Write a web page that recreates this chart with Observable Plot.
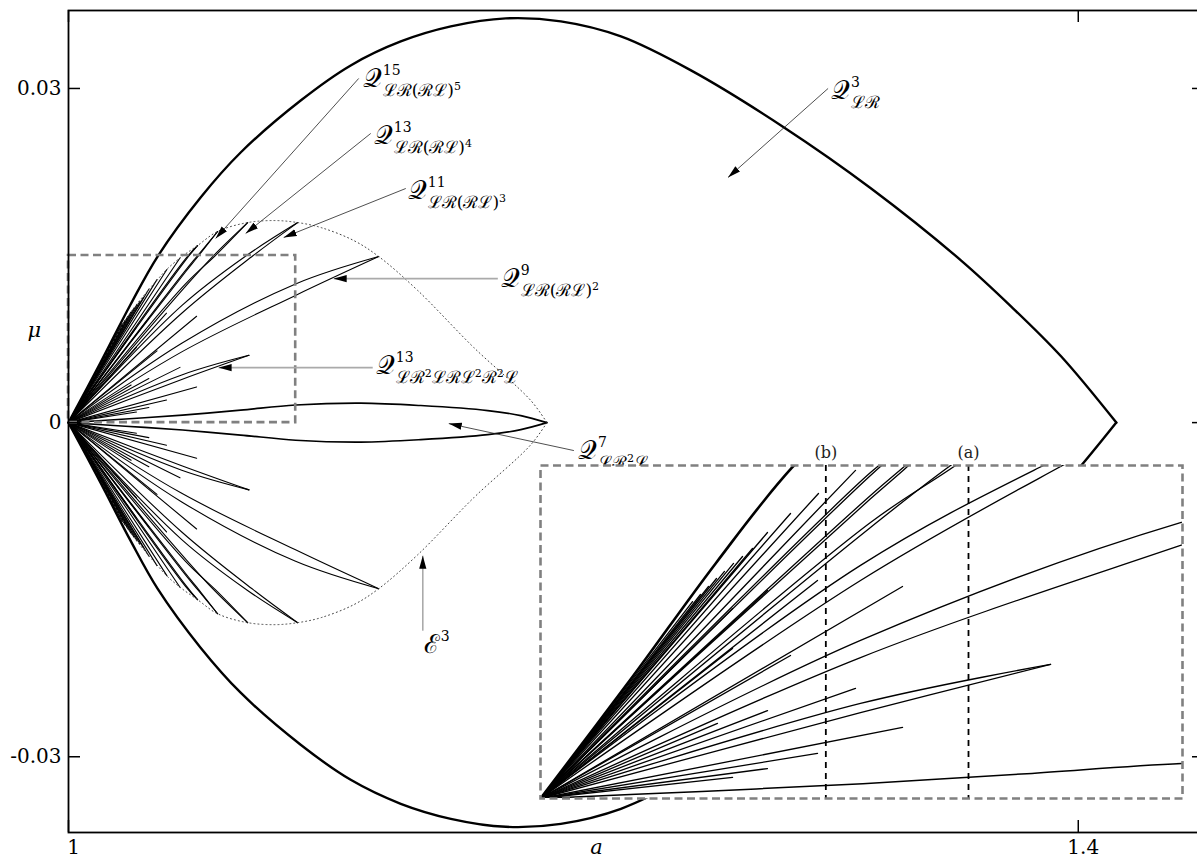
<!DOCTYPE html>
<html><head><meta charset="utf-8">
<script src="https://cdn.jsdelivr.net/npm/d3@7"></script>
<script src="https://cdn.jsdelivr.net/npm/@observablehq/plot@0.6"></script>
<style>
body{margin:0;background:#fff;}
#wrap{position:relative;width:1197px;height:865px;overflow:hidden;background:#fff;}
</style></head><body><div id="wrap"></div>
<script>
// ---------- data (upper half; the figure is symmetric in mu) ----------
const xTicks = [1, 1.4];
const xTickText = ["1", "1.4"];
const yTicks = [-0.03, 0, 0.03];
const yTickText = ["-0.03", "0", "0.03"];

// Q^3_LR boundary, upper branch
const q3A  = [1, 1.01269, 1.02458, 1.03528, 1.05233, 1.06819, 1.09197, 1.11179, 1.13161, 1.15144, 1.17324, 1.19504, 1.21883, 1.24658, 1.28345, 1.31794, 1.35362, 1.37344, 1.39326, 1.41506];
const q3Mu = [0, 0.00539, 0.01060, 0.01491, 0.02021, 0.02425, 0.02892, 0.03207, 0.03422, 0.03557, 0.03629, 0.03602, 0.03467, 0.03162, 0.02650, 0.02102, 0.01455, 0.01042, 0.00593, 0];

// E^3 curve (dotted), upper branch
const e3A  = [1, 1.00872, 1.01665, 1.02458, 1.03195, 1.03528, 1.03885, 1.04440, 1.05114, 1.05907, 1.07096, 1.08206, 1.09078, 1.09990, 1.11298, 1.12289, 1.13835, 1.16055, 1.18315, 1.1895];
const e3Mu = [0, 0.00359, 0.00683, 0.00988, 0.01198, 0.01284, 0.01374, 0.01482, 0.01590, 0.01716, 0.01796, 0.01814, 0.01796, 0.01752, 0.01635, 0.01491, 0.01186, 0.00674, 0.00198, 0];

// Q^7_{LR^2L} lens, upper curve
const q7A  = [1, 1.02260, 1.04519, 1.06819, 1.08999, 1.11576, 1.13954, 1.16610, 1.17918, 1.1895];
const q7Mu = [0, 0.00032, 0.00067, 0.00112, 0.00158, 0.00175, 0.00153, 0.00108, 0.00063, 0];

// common origin of every fan line
const fanOrigin = [1, 0];
// straight fan lines: end points
const fanEndA  = [1.04416, 1.03897, 1.03505, 1.03182, 1.02972, 1.02832, 1.02706, 1.02579, 1.02467, 1.02355, 1.02243, 1.02131,
                  1.03883, 1.03182, 1.02692, 1.05075, 1.03505, 1.02692, 1.04416, 1.03182, 1.02481, 1.05075, 1.03883, 1.03182, 1.02692];
const fanEndMu = [0.01478, 0.01374, 0.01284, 0.01198, 0.01126, 0.01090, 0.01059, 0.01023, 0.00991, 0.00955, 0.00919, 0.00887,
                  0.00982, 0.00937, 0.00856, 0.00955, 0.00644, 0.00676, 0.00496, 0.00396, 0.00338, 0.00320, 0.00203, 0.00135, 0.00095];
// curved fan lines (pairs bounding the Q regions): points after the origin
const fanCurves = [
  [[1.04486, 0.00712], [1.08972, 0.01243], [1.12289, 0.01491]],   // Q9
  [[1.04486, 0.00635], [1.08972, 0.01140], [1.12289, 0.01491]],
  [[1.04486, 0.01050], [1.07051, 0.01500], [1.09078, 0.01796]],   // Q11
  [[1.04486, 0.00982], [1.07318, 0.01500], [1.09078, 0.01796]],
  [[1.04626, 0.01243], [1.05818, 0.01500], [1.07096, 0.01796]],   // Q13
  [[1.04626, 0.01221], [1.05748, 0.01500], [1.07096, 0.01796]],
  [[1.04626, 0.01365], [1.05117, 0.01500], [1.05907, 0.01716]],   // Q15
  [[1.04626, 0.01350], [1.05090, 0.01480], [1.05907, 0.01716]],
  [[1.04626, 0.01468], [1.05114, 0.01590]],
  [[1.04626, 0.01455], [1.05114, 0.01590]],
  [[1.04486, 0.00428], [1.07150, 0.00604]],                       // Q13 LR2LRL2R2L
  [[1.04486, 0.00387], [1.07150, 0.00604]]
];

// zoom window and its guides
const zoomBox = [{a1: 1, a2: 1.09, mu1: 0, mu2: 0.015}];
const insetGuides = [{a: 1.04, t: "(b)"}, {a: 1.06, t: "(a)"}];

// annotations
const labels = [
  {a: 1.11655, mu: 0.03090, main: "𝒬", sup: "15", sub: "ℒℛ(ℛℒ)^5"},
  {a: 1.12091, mu: 0.02578, main: "𝒬", sup: "13", sub: "ℒℛ(ℛℒ)^4"},
  {a: 1.13439, mu: 0.02084, main: "𝒬", sup: "11", sub: "ℒℛ(ℛℒ)^3"},
  {a: 1.17126, mu: 0.01293, main: "𝒬", sup: "9",  sub: "ℒℛ(ℛℒ)^2"},
  {a: 1.12170, mu: 0.00512, main: "𝒬", sup: "13", sub: "ℒℛ^2ℒℛℒ^2ℛ^2ℒ"},
  {a: 1.20178, mu: -0.00251, main: "𝒬", sup: "7", sub: "ℒℛ^2ℒ"},
  {a: 1.30208, mu: 0.02982, main: "𝒬", sup: "3",  sub: "ℒℛ"},
  {a: 1.14074, mu: -0.01994, main: "ℰ", sup: "3",  sub: ""}
];
const blackArrows = [
  {a1: 1.11496, mu1: 0.03090, a2: 1.05828, mu2: 0.01653},
  {a1: 1.11972, mu1: 0.02596, a2: 1.07017, mu2: 0.01698},
  {a1: 1.13360, mu1: 0.02102, a2: 1.08523, mu2: 0.01662},
  {a1: 1.30089, mu1: 0.03000, a2: 1.26125, mu2: 0.02201},
  {a1: 1.20020, mu1: -0.00251, a2: 1.15064, mu2: -0.00009}
];
const grayArrows = [
  {a1: 1.17007, mu1: 0.01293, a2: 1.10505, mu2: 0.01293},
  {a1: 1.12051, mu1: 0.00494, a2: 1.05946, mu2: 0.00494},
  {a1: 1.14034, mu1: -0.01868, a2: 1.14034, mu2: -0.01195}
];
const axisTitles = {x: {a: 1.2092, t: "a"}, y: {mu: 0.00826, t: "μ"}};

// ---------- build rows ----------
const rowsFrom = (id, A, M) => A.map((a, i) => ({id, a, mu: M[i]}));
const q3Rows = rowsFrom("q3", q3A, q3Mu);
const e3Rows = rowsFrom("e3", e3A, e3Mu);
const q7Rows = rowsFrom("q7", q7A, q7Mu);
const fanRows = [];
fanEndA.forEach((a, i) => {
  fanRows.push({id: "s" + i, a: fanOrigin[0], mu: fanOrigin[1]}, {id: "s" + i, a, mu: fanEndMu[i]});
});
fanCurves.forEach((pts, i) => {
  fanRows.push({id: "c" + i, a: fanOrigin[0], mu: fanOrigin[1]});
  pts.forEach(([a, mu]) => fanRows.push({id: "c" + i, a, mu}));
});
const neg = d => -d.mu;

// ---------- layout ----------
const W = 1197, H = 865, mL = 68, mR = -7, mT = 10, mB = 33;
const FW = W - mL - mR, FH = H - mT - mB;
const SERIF = "DejaVu Serif, Liberation Serif, serif";
const TICK = 12;

const main = Plot.plot({
  width: W, height: H, marginLeft: mL, marginRight: mR, marginTop: mT, marginBottom: mB,
  x: {domain: [1, 1.45], axis: null},
  y: {domain: [-0.0368, 0.037], axis: null},
  style: {fontFamily: SERIF, fontSize: "20px", background: "white", overflow: "visible"},
  marks: [
    Plot.line(fanRows, {x: "a", y: "mu", z: "id", curve: "catmull-rom", stroke: "black", strokeWidth: 1.1}),
    Plot.line(fanRows, {x: "a", y: neg, z: "id", curve: "catmull-rom", stroke: "black", strokeWidth: 1.1}),
    Plot.line(q7Rows, {x: "a", y: "mu", curve: "catmull-rom", stroke: "black", strokeWidth: 1.6}),
    Plot.line(q7Rows, {x: "a", y: neg, curve: "catmull-rom", stroke: "black", strokeWidth: 1.6}),
    Plot.line(e3Rows, {x: "a", y: "mu", curve: "catmull-rom", stroke: "#444", strokeWidth: 1, strokeDasharray: "1,3"}),
    Plot.line(e3Rows, {x: "a", y: neg, curve: "catmull-rom", stroke: "#444", strokeWidth: 1, strokeDasharray: "1,3"}),
    Plot.line(q3Rows, {x: "a", y: "mu", curve: "catmull-rom", stroke: "black", strokeWidth: 2.4}),
    Plot.line(q3Rows, {x: "a", y: neg, curve: "catmull-rom", stroke: "black", strokeWidth: 2.4}),
    Plot.rect(zoomBox, {x1: "a1", x2: "a2", y1: "mu1", y2: "mu2", fill: "none", stroke: "#808080", strokeWidth: 2.6, strokeDasharray: "8,4.5"}),
    Plot.frame({stroke: "black", strokeWidth: 1.8}),
    Plot.ruleY(yTicks, {y: d => d, insetRight: FW - TICK, stroke: "black", strokeWidth: 1.5}),
    Plot.ruleY(yTicks, {y: d => d, insetLeft: FW - TICK, stroke: "black", strokeWidth: 1.5}),
    Plot.ruleX(xTicks, {x: d => d, insetTop: FH - TICK, stroke: "black", strokeWidth: 1.5}),
    Plot.ruleX(xTicks, {x: d => d, insetBottom: FH - TICK, stroke: "black", strokeWidth: 1.5}),
    Plot.text(yTicks, {y: d => d, text: (d, i) => yTickText[i], frameAnchor: "left", textAnchor: "end", dx: -7, fill: "black"}),
    Plot.text(xTicks, {x: d => d, text: (d, i) => xTickText[i], frameAnchor: "bottom", dy: 21, dx: 5, fill: "black"}),
    Plot.text([axisTitles.x], {x: "a", text: "t", frameAnchor: "bottom", dy: 21, fontStyle: "italic", fontSize: 21}),
    Plot.text([axisTitles.y], {y: "mu", text: "t", frameAnchor: "left", dx: -41, fontStyle: "italic", fontSize: 21}),
    Plot.link(grayArrows, {x1: "a1", y1: "mu1", x2: "a2", y2: "mu2", stroke: "#aaa", strokeWidth: 1.6, ariaLabel: () => "arrow"}),
    Plot.link(blackArrows, {x1: "a1", y1: "mu1", x2: "a2", y2: "mu2", stroke: "#222", strokeWidth: 0.8, ariaLabel: () => "arrow"}),
    Plot.text(labels, {x: "a", y: "mu", text: "main", textAnchor: "start", fontSize: 26, fill: "black", ariaLabel: () => "mathlabel"})
  ]
});

const wrap = document.getElementById("wrap");
wrap.appendChild(main);

// ---------- inset (zoom of the dashed box) ----------
const insetPadTop = 30;
const inset = Plot.plot({
  width: 642, height: 333 + insetPadTop, marginLeft: 0, marginRight: 0, marginTop: insetPadTop, marginBottom: 0,
  x: {domain: [zoomBox[0].a1, zoomBox[0].a2], axis: null},
  y: {domain: [zoomBox[0].mu1, zoomBox[0].mu2], axis: null},
  style: {fontFamily: SERIF, fontSize: "16px", background: "transparent", overflow: "visible"},
  marks: [
    Plot.frame({fill: "white"}),
    Plot.line(fanRows, {x: "a", y: "mu", z: "id", curve: "catmull-rom", stroke: "black", strokeWidth: 1.3, clip: true}),
    Plot.line(q7Rows, {x: "a", y: "mu", curve: "catmull-rom", stroke: "black", strokeWidth: 1.5, clip: true}),
    Plot.line(q3Rows, {x: "a", y: "mu", curve: "catmull-rom", stroke: "black", strokeWidth: 2.6, clip: true}),
    Plot.ruleX(insetGuides, {x: "a", stroke: "black", strokeWidth: 1.8, strokeDasharray: "6,5"}),
    Plot.text(insetGuides, {x: "a", text: "t", frameAnchor: "top", dy: -19, fill: "#222"}),
    Plot.frame({stroke: "#808080", strokeWidth: 2.6, strokeDasharray: "8,4.5"})
  ]
});
inset.style.position = "absolute";
inset.style.left = "540px";
inset.style.top = (465 - insetPadTop) + "px";
wrap.appendChild(inset);

// ---------- arrowheads ----------
const NS = "http://www.w3.org/2000/svg";
(function () {
  const defs = document.createElementNS(NS, "defs");
  const m = document.createElementNS(NS, "marker");
  const at = {id: "ahead", viewBox: "0 -4 13 8", refX: 13, refY: 0, markerWidth: 13, markerHeight: 8, markerUnits: "userSpaceOnUse", orient: "auto"};
  for (const k in at) m.setAttribute(k, at[k]);
  const p = document.createElementNS(NS, "path");
  p.setAttribute("d", "M0,-3.6L13,0L0,3.6Z");
  p.setAttribute("fill", "black");
  m.appendChild(p); defs.appendChild(m);
  main.insertBefore(defs, main.firstChild);
  main.querySelectorAll('[aria-label="arrow"]').forEach(el => {
    if (el.tagName.toLowerCase() !== "g") el.setAttribute("marker-end", "url(#ahead)");
  });
})();

// ---------- math labels: superscripts / subscripts ----------
Array.from(main.querySelectorAll('text[aria-label="mathlabel"]')).forEach((t, i) => {
  const L = labels[i];
  const mk = (s, attrs) => {
    const e = document.createElementNS(NS, "tspan");
    e.textContent = s;
    for (const k in attrs) e.setAttribute(k, attrs[k]);
    t.appendChild(e);
    return e;
  };
  const supY = -12;
  const sp = mk(L.sup, {"font-size": 14, dy: supY, dx: 1});
  if (!L.sub) return;
  const w = sp.getComputedTextLength();
  const parts = L.sub.split(/\^(\d)/);
  let cur = supY, first = true;
  parts.forEach((p, k) => {
    if (!p) return;
    const target = k % 2 === 0 ? 9 : 3;
    const attrs = {"font-size": k % 2 === 0 ? 17 : 11, dy: target - cur};
    if (first) { attrs.dx = -w; first = false; }
    mk(p, attrs);
    cur = target;
  });
});
</script></body></html>
